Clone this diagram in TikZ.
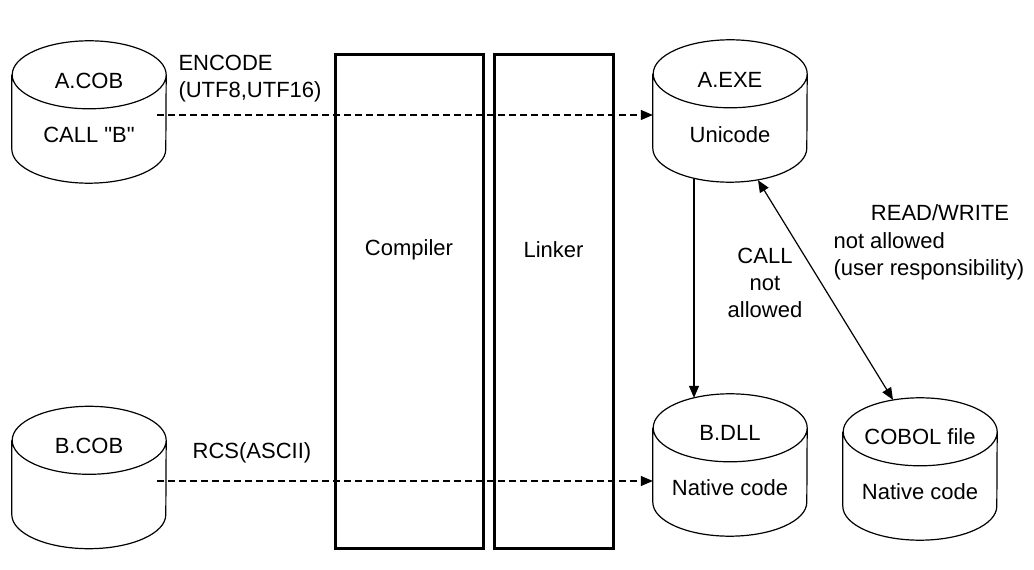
\documentclass[tikz,border=0pt]{standalone}
\usepackage{fontspec}
\setmainfont{Liberation Sans}
\usepackage{tikz}
\usetikzlibrary{arrows.meta, positioning}

\newcommand{\dq}{\XeTeXglyph\XeTeXcharglyph"22\relax}
\newcommand{\dbstore}[2]{%
    \node[storebox] (#1) at (#2) {};
    \draw[storeline] ([yshift=-34pt]#1.north west) -- ([yshift=34pt]#1.south west)
        arc[start angle=180, end angle=360, x radius=77pt, y radius=34pt]
        -- ([yshift=-34pt]#1.north east)
        arc[start angle=0, end angle=360, x radius=77pt, y radius=34pt];
}

\begin{document}
\begin{tikzpicture}[
    x=1pt, y=1pt,
    every node/.style={font=\fontsize{22}{27}\selectfont},
    storebox/.style={rectangle, minimum width=154pt, minimum height=142pt, inner sep=0pt},
    storeline/.style={line width=1.2pt},
    stage/.style={rectangle, draw, line width=3pt, minimum height=494pt, inner sep=0pt},
    flow/.style={-{Triangle[length=12pt,width=10pt]}, line width=1.2pt},
    both/.style={{Triangle[length=12pt,width=10pt]}-{Triangle[length=12pt,width=10pt]}, line width=1.2pt},
    encflow/.style={flow, dash pattern=on 7pt off 4pt},
]
    \useasboundingbox (0,0) rectangle (1034,570);

    \node[stage, minimum width=148pt] (compiler) at (409,268) {};
    \node[stage, minimum width=119pt] (linker) at (553.5,268) {};
    \node (compilerT) at (409,320) {Compiler};
    \node (linkerT) at (553.5,320) {Linker};

    \dbstore{acob}{89,458}
    \dbstore{aexe}{730,459}
    \dbstore{bcob}{89,92.5}
    \dbstore{bdll}{730,105}
    \dbstore{cobol}{920,101}

    \node (acobT) at ([yshift=31pt]acob.center) {A.COB};
    \node (acobB) at ([yshift=-23pt]acob.center) {CALL \dq B\dq};
    \node (aexeT) at ([yshift=31pt]aexe.center) {A.EXE};
    \node (aexeB) at ([yshift=-24pt]aexe.center) {Unicode};
    \node (bcobT) at ([yshift=32pt]bcob.center) {B.COB};
    \node (bdllT) at ([yshift=32pt]bdll.center) {B.DLL};
    \node (bdllB) at ([yshift=-23pt]bdll.center) {Native code};
    \node (cobolT) at ([yshift=32pt]cobol.center) {COBOL file};
    \node (cobolB) at ([yshift=-23pt]cobol.center) {Native code};

    \draw[encflow] ([shift={(-9pt,-3pt)}]acob.east) -- ([yshift=-3pt]acob.east -| aexe.west);
    \draw[encflow] ([shift={(-9pt,-3.5pt)}]bcob.east) -- ([yshift=-3.5pt]bcob.east -| bdll.west);
    \draw[flow] ([shift={(-36pt,4pt)}]aexe.south) -- ([shift={(-36pt,-4pt)}]bdll.north);
    \draw[both] ([shift={(28pt,2pt)}]aexe.south) -- ([shift={(-27pt,-2pt)}]cobol.north);

    \node[anchor=west, align=left] (encodeL) at (175,491) {ENCODE\\(UTF8,UTF16)};
    \node (rcsL) at (252,117) {RCS(ASCII)};
    \node[align=center] (callL) at (765,287) {CALL\\not\\allowed};
    \node (rwL) at (940,357) {READ/WRITE};
    \node[anchor=west, align=left] (respL) at (830,314) {not allowed\\(user responsibility)};
\end{tikzpicture}
\end{document}
